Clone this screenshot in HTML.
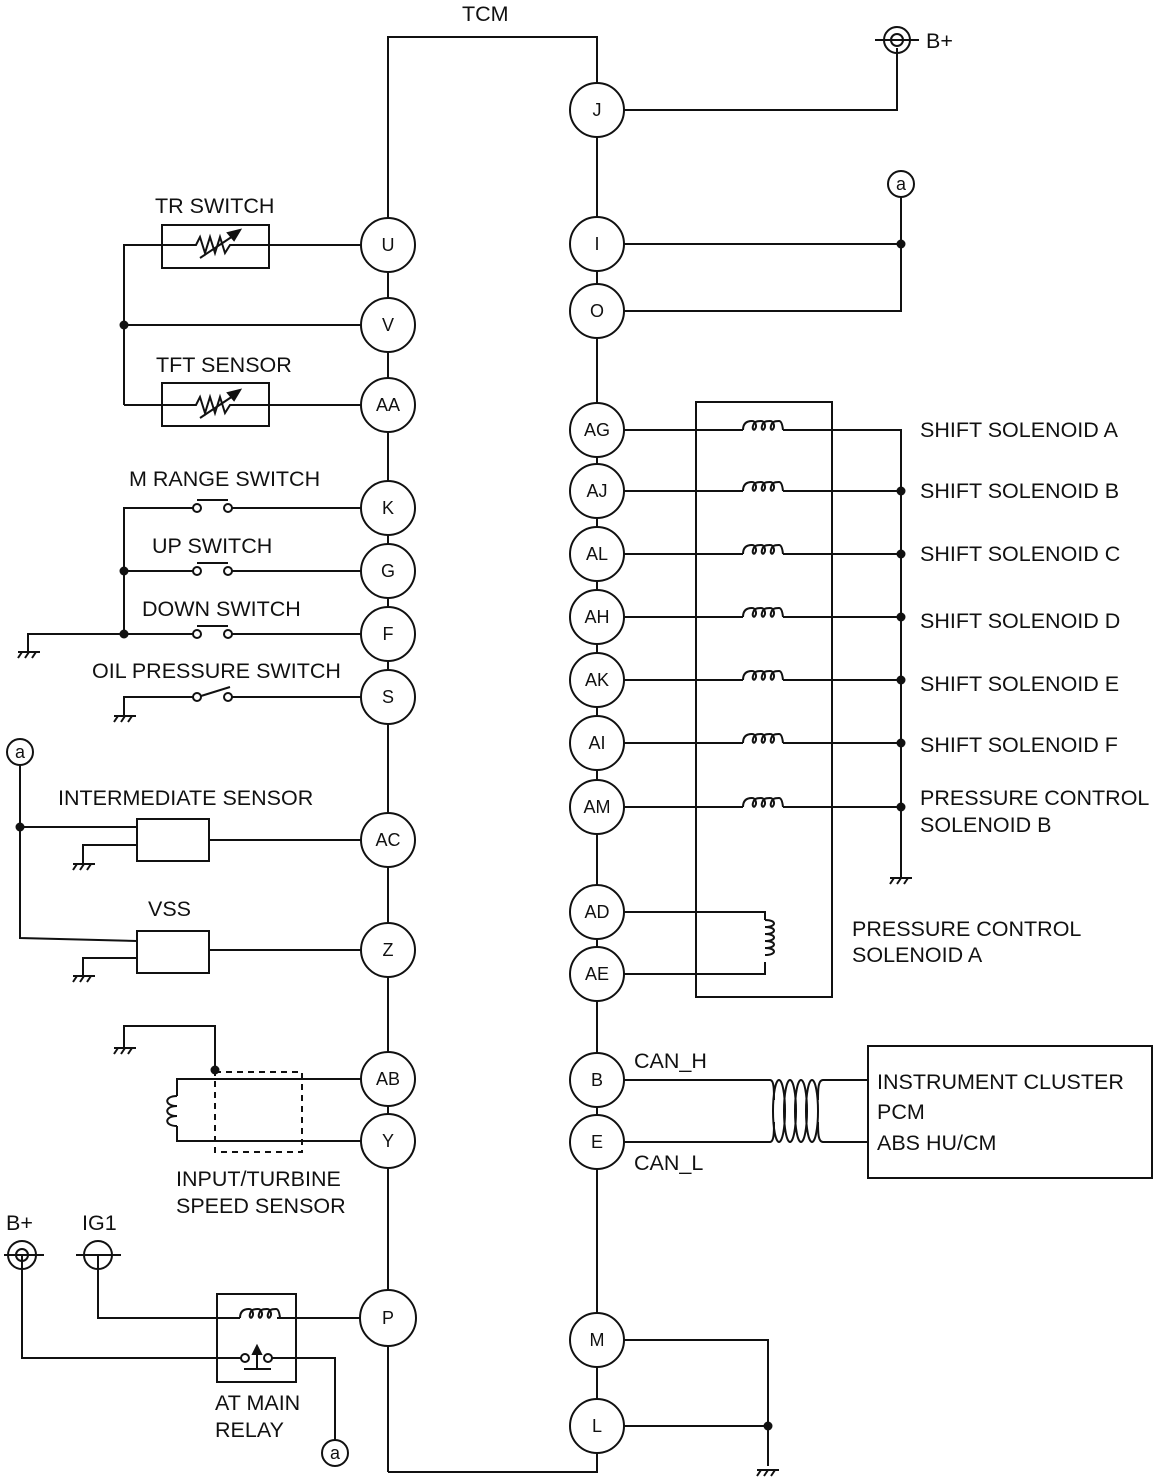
<!DOCTYPE html>
<html><head><meta charset="utf-8"><style>
html,body{margin:0;padding:0;background:#fff;}
svg{display:block;}
text{font-family:"Liberation Sans",Arial,sans-serif;fill:#111;}
.l{font-size:21.5px;}
.c{font-size:18px;text-anchor:middle;}
</style></head><body>
<svg width="1157" height="1481" viewBox="0 0 1157 1481" xmlns="http://www.w3.org/2000/svg">
<defs>
<path id="coilp" d="M743 430 Q743 421 752 421 c4 0 5 6 3 8 c-1 2 -3 0 -2 -3 c1 -4 3 -5 8 -5 c4 0 5 6 3 8 c-1 2 -3 0 -2 -3 c1 -4 3 -5 8 -5 c4 0 5 6 3 8 c-1 2 -3 0 -2 -3 c1 -4 3 -5 8 -5 Q782 421 783 430"/>
</defs>
<g fill="none" stroke="#111" stroke-width="2">
<!-- TCM frame -->
<path d="M388 1472 V37 H597 V1472 H388"/>

<!-- TR switch -->
<rect x="162" y="225" width="107" height="43"/>
<path d="M124 405 V245 H196 l4 -8 l5 16 l5 -16 l5 16 l5 -16 l5 16 l5 -8 H361"/>
<path d="M200 258 L236 234"/><path d="M240 230 l-12 3 l6 7 z" fill="#111"/>
<path d="M124 325 H361"/>
<!-- TFT -->
<rect x="162" y="383" width="107" height="43"/>
<path d="M124 405 H196 l4 -8 l5 16 l5 -16 l5 16 l5 -16 l5 16 l5 -8 H361"/>
<path d="M200 418 L236 394"/><path d="M240 390 l-12 3 l6 7 z" fill="#111"/>

<!-- switches -->
<path d="M361 508 H232 M193 508 H124 V634 M124 571 H193 M232 571 H361 M361 634 H232 M193 634 H28 V652"/>
<circle cx="197" cy="508" r="4"/><circle cx="228" cy="508" r="4"/><path d="M197 500 H228"/>
<circle cx="197" cy="571" r="4"/><circle cx="228" cy="571" r="4"/><path d="M197 563 H228"/>
<circle cx="197" cy="634" r="4"/><circle cx="228" cy="634" r="4"/><path d="M197 626 H228"/>
<path d="M18 652 H40 M22 652 l-4 6 M29 652 l-4 6 M36 652 l-4 6"/>
<!-- oil pressure -->
<path d="M124 716 V697 H193 M201 696 L230 687 M232 697 H361"/>
<circle cx="197" cy="697" r="4"/><circle cx="228" cy="697" r="4"/>
<path d="M114 716 H136 M118 716 l-4 6 M125 716 l-4 6 M132 716 l-4 6"/>

<!-- intermediate, VSS -->
<circle cx="20" cy="752" r="13"/>
<path d="M20 765 V938 L137 941 M20 827 H137 M209 840 H361 M209 950 H361"/>
<rect x="137" y="819" width="72" height="42"/>
<rect x="137" y="931" width="72" height="42"/>
<path d="M137 845 H83 V864 M73 864 H95 M77 864 l-4 6 M84 864 l-4 6 M91 864 l-4 6"/>
<path d="M137 958 H83 V976 M73 976 H95 M77 976 l-4 6 M84 976 l-4 6 M91 976 l-4 6"/>

<!-- input turbine -->
<path d="M124 1048 V1026 H215 V1070"/>
<path d="M114 1048 H136 M118 1048 l-4 6 M125 1048 l-4 6 M132 1048 l-4 6"/>
<rect x="215" y="1072" width="87" height="80" stroke-dasharray="6 5"/>
<path d="M361 1079 H177 V1096 M177 1126 V1141 H361"/>
<path d="M177 1096 c-13 0 -13 10 0 10 c-13 0 -13 10 0 10 c-13 0 -13 10 0 10"/>

<!-- B+ IG1 relay -->
<circle cx="22" cy="1255" r="14"/><circle cx="22" cy="1255" r="6"/><path d="M4 1255 H44"/>
<circle cx="98" cy="1255" r="14"/><path d="M76 1255 H121"/>
<rect x="217" y="1294" width="79" height="88"/>
<path d="M98 1255 V1318 H240 M277 1318 H361"/>
<use href="#coilp" transform="translate(-503,888)"/>
<path d="M22 1255 V1358 H241 M271 1358 H335 V1440"/>
<circle cx="245" cy="1358" r="4"/><circle cx="268" cy="1358" r="4"/>
<path d="M244 1369 H271 M257 1369 V1352"/><path d="M257 1346 l-4 8 h8 z" fill="#111"/>
<circle cx="335" cy="1453" r="13"/>

<!-- right side -->
<path d="M623 110 H897 V48"/>
<circle cx="897" cy="40" r="13"/><circle cx="897" cy="40" r="6"/><path d="M875 40 H919"/>
<circle cx="901" cy="184" r="13"/>
<path d="M901 197 V311 H623 M623 244 H901"/>

<rect x="696" y="402" width="136" height="595"/>
<path d="M623 430 H743 M783 430 H901 V878"/>
<path d="M623 491 H743 M783 491 H901 M623 554 H743 M783 554 H901 M623 617 H743 M783 617 H901 M623 680 H743 M783 680 H901 M623 743 H743 M783 743 H901 M623 807 H743 M783 807 H901"/>
<use href="#coilp"/>
<use href="#coilp" transform="translate(0,61)"/>
<use href="#coilp" transform="translate(0,124)"/>
<use href="#coilp" transform="translate(0,187)"/>
<use href="#coilp" transform="translate(0,250)"/>
<use href="#coilp" transform="translate(0,313)"/>
<use href="#coilp" transform="translate(0,377)"/>
<path d="M890 878 H912 M894 878 l-4 6 M901 878 l-4 6 M908 878 l-4 6"/>
<path d="M623 912 H765 V920 M765 962 V974 H623"/>
<path d="M765 920 c12 0 12 7 0 7 c12 0 12 7 0 7 c12 0 12 7 0 7 c12 0 12 7 0 7 c12 0 12 7 0 7 c2 0 0 0 0 0"/>

<!-- CAN -->
<path d="M623 1080 H770 C774 1080 774 1090 774 1100 M623 1142 H770 C774 1142 774 1132 774 1122"/>
<ellipse cx="779" cy="1111" rx="6" ry="31"/>
<ellipse cx="790" cy="1111" rx="6" ry="31"/>
<ellipse cx="801" cy="1111" rx="6" ry="31"/>
<ellipse cx="812" cy="1111" rx="6" ry="31"/>
<path d="M818 1100 C818 1090 818 1080 823 1080 H868 M818 1122 C818 1132 818 1142 823 1142 H868"/>
<rect x="868" y="1046" width="284" height="132"/>

<path d="M623 1340 H768 V1466 M623 1426 H768"/>
<path d="M757 1470 H779 M761 1470 l-4 6 M768 1470 l-4 6 M775 1470 l-4 6"/>
</g>

<!-- dots -->
<g fill="#111">
<circle cx="124" cy="325" r="4.5"/><circle cx="124" cy="571" r="4.5"/><circle cx="124" cy="634" r="4.5"/>
<circle cx="20" cy="827" r="4.5"/><circle cx="215" cy="1070" r="4.5"/>
<circle cx="901" cy="244" r="4.5"/>
<circle cx="901" cy="491" r="4.5"/><circle cx="901" cy="554" r="4.5"/><circle cx="901" cy="617" r="4.5"/>
<circle cx="901" cy="680" r="4.5"/><circle cx="901" cy="743" r="4.5"/><circle cx="901" cy="807" r="4.5"/>
<circle cx="768" cy="1426" r="4.5"/>
</g>

<!-- connector circles -->
<g fill="#fff" stroke="#111" stroke-width="2">
<circle cx="388" cy="245" r="27"/><circle cx="388" cy="325" r="27"/><circle cx="388" cy="405" r="27"/>
<circle cx="388" cy="508" r="27"/><circle cx="388" cy="571" r="27"/><circle cx="388" cy="634" r="27"/>
<circle cx="388" cy="697" r="27"/><circle cx="388" cy="840" r="27"/><circle cx="388" cy="950" r="27"/>
<circle cx="388" cy="1079" r="27"/><circle cx="388" cy="1141" r="27"/><circle cx="388" cy="1318" r="28"/>
<circle cx="597" cy="110" r="27"/><circle cx="597" cy="244" r="27"/><circle cx="597" cy="311" r="27"/>
<circle cx="597" cy="430" r="27"/><circle cx="597" cy="491" r="27"/><circle cx="597" cy="554" r="27"/>
<circle cx="597" cy="617" r="27"/><circle cx="597" cy="680" r="27"/><circle cx="597" cy="743" r="27"/>
<circle cx="597" cy="807" r="27"/><circle cx="597" cy="912" r="27"/><circle cx="597" cy="974" r="27"/>
<circle cx="597" cy="1080" r="27"/><circle cx="597" cy="1142" r="27"/>
<circle cx="597" cy="1340" r="27"/><circle cx="597" cy="1426" r="27"/>
</g>
<g>
<text class="c" x="388" y="251">U</text><text class="c" x="388" y="331">V</text><text class="c" x="388" y="411">AA</text>
<text class="c" x="388" y="514">K</text><text class="c" x="388" y="577">G</text><text class="c" x="388" y="640">F</text>
<text class="c" x="388" y="703">S</text><text class="c" x="388" y="846">AC</text><text class="c" x="388" y="956">Z</text>
<text class="c" x="388" y="1085">AB</text><text class="c" x="388" y="1147">Y</text><text class="c" x="388" y="1324">P</text>
<text class="c" x="597" y="116">J</text><text class="c" x="597" y="250">I</text><text class="c" x="597" y="317">O</text>
<text class="c" x="597" y="436">AG</text><text class="c" x="597" y="497">AJ</text><text class="c" x="597" y="560">AL</text>
<text class="c" x="597" y="623">AH</text><text class="c" x="597" y="686">AK</text><text class="c" x="597" y="749">AI</text>
<text class="c" x="597" y="813">AM</text><text class="c" x="597" y="918">AD</text><text class="c" x="597" y="980">AE</text>
<text class="c" x="597" y="1086">B</text><text class="c" x="597" y="1148">E</text>
<text class="c" x="597" y="1346">M</text><text class="c" x="597" y="1432">L</text>
<text class="c" x="20" y="758">a</text><text class="c" x="335" y="1459">a</text><text class="c" x="901" y="190">a</text>
</g>

<!-- labels -->
<g>
<text class="l" x="462" y="21">TCM</text>
<text class="l" x="926" y="48">B+</text>
<text class="l" x="155" y="213">TR SWITCH</text>
<text class="l" x="156" y="372">TFT SENSOR</text>
<text class="l" x="129" y="486">M RANGE SWITCH</text>
<text class="l" x="152" y="553">UP SWITCH</text>
<text class="l" x="142" y="616">DOWN SWITCH</text>
<text class="l" x="92" y="678">OIL PRESSURE SWITCH</text>
<text class="l" x="58" y="805">INTERMEDIATE SENSOR</text>
<text class="l" x="148" y="916">VSS</text>
<text class="l" x="176" y="1186">INPUT/TURBINE</text>
<text class="l" x="176" y="1213">SPEED SENSOR</text>
<text class="l" x="6" y="1230">B+</text>
<text class="l" x="82" y="1230">IG1</text>
<text class="l" x="215" y="1410">AT MAIN</text>
<text class="l" x="215" y="1437">RELAY</text>
<text class="l" x="920" y="437">SHIFT SOLENOID A</text>
<text class="l" x="920" y="498">SHIFT SOLENOID B</text>
<text class="l" x="920" y="561">SHIFT SOLENOID C</text>
<text class="l" x="920" y="628">SHIFT SOLENOID D</text>
<text class="l" x="920" y="691">SHIFT SOLENOID E</text>
<text class="l" x="920" y="752">SHIFT SOLENOID F</text>
<text class="l" x="920" y="805">PRESSURE CONTROL</text>
<text class="l" x="920" y="832">SOLENOID B</text>
<text class="l" x="852" y="936">PRESSURE CONTROL</text>
<text class="l" x="852" y="962">SOLENOID A</text>
<text class="l" x="634" y="1068">CAN_H</text>
<text class="l" x="634" y="1170">CAN_L</text>
<text class="l" x="877" y="1089">INSTRUMENT CLUSTER</text>
<text class="l" x="877" y="1119">PCM</text>
<text class="l" x="877" y="1150">ABS HU/CM</text>
</g>
</svg>
</body></html>
